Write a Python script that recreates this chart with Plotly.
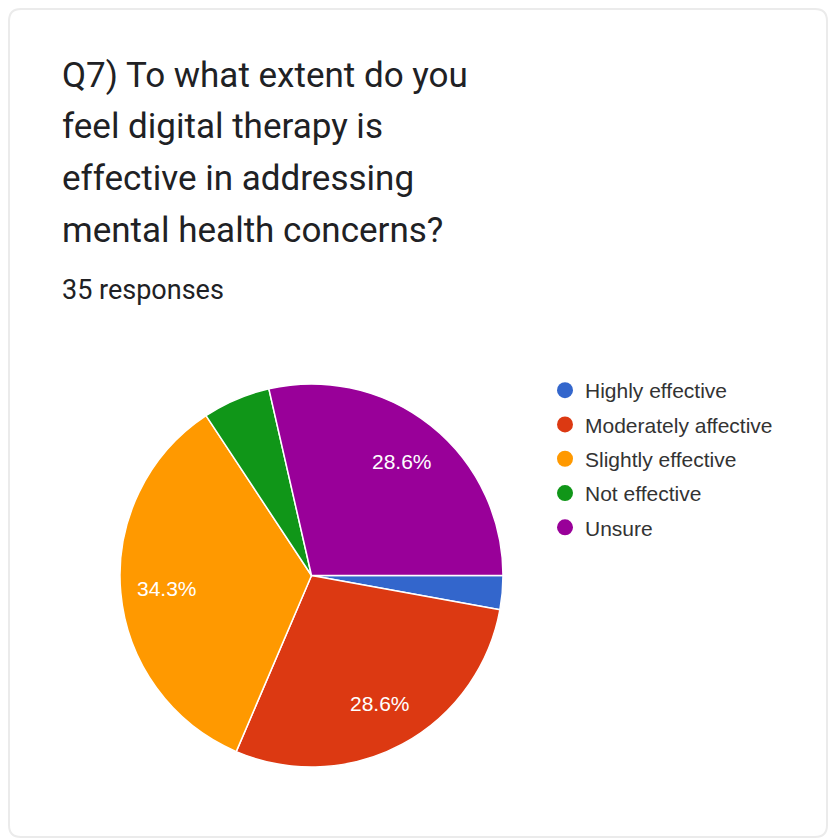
import math
import plotly.graph_objects as go

# Survey answers for Q7 (35 responses)
categories = ["Highly effective", "Moderately affective", "Slightly effective",
              "Not effective", "Unsure"]
counts = [1, 10, 12, 2, 10]
colors = ["#3366cc", "#dc3912", "#ff9900", "#109618", "#990099"]

title_lines = ["Q7) To what extent do you", "feel digital therapy is",
               "effective in addressing", "mental health concerns?"]
subtitle = "35 responses"

W, H = 832, 840

# pie geometry in pixels
cx, cy, r = 311.5, 575.5, 191.5
start_angle = 90  # degrees clockwise from 12 o'clock
label_radius = 0.76
min_label_share = 0.10


def px(x):
    return x / W


def py(y):
    return 1 - y / H


fig = go.Figure()

fig.add_trace(go.Pie(
    labels=categories,
    values=counts,
    sort=False,
    direction="clockwise",
    rotation=start_angle,
    marker=dict(colors=colors, line=dict(color="white", width=1.5)),
    textinfo="none",
    hoverinfo="label+percent",
    showlegend=False,
    domain=dict(x=[px(cx - r), px(cx + r)], y=[py(cy + r), py(cy - r)]),
))

# percentage labels placed along each slice's mid-angle
total = sum(counts)
annotations = []
acc = 0.0
for cat, v in zip(categories, counts):
    share = v / total
    mid = math.radians(start_angle + 360 * (acc + share / 2))
    acc += share
    if share < min_label_share:
        continue
    lx = cx + label_radius * r * math.sin(mid)
    ly = cy - label_radius * r * math.cos(mid)
    annotations.append(dict(
        x=px(lx), y=py(ly), xref="paper", yref="paper",
        text=f"{share * 100:.1f}%", showarrow=False,
        xanchor="center", yanchor="middle",
        font=dict(family="Arial, Liberation Sans, sans-serif", size=21, color="white"),
    ))

# question text
line_centers = [75, 126, 178, 230]
for line, yc in zip(title_lines, line_centers):
    annotations.append(dict(
        x=px(60), y=py(yc), xref="paper", yref="paper", text=line,
        showarrow=False, xanchor="left", yanchor="middle",
        font=dict(family="Roboto, sans-serif", size=35, color="#202124"),
    ))
annotations.append(dict(
    x=px(60), y=py(290), xref="paper", yref="paper", text=subtitle,
    showarrow=False, xanchor="left", yanchor="middle",
    font=dict(family="Roboto, sans-serif", size=27, color="#202124"),
))

# legend entries with round markers
for cat, col in zip(categories, colors):
    fig.add_trace(go.Scatter(
        x=[None], y=[None], mode="markers", name=cat, legendgroup=cat,
        marker=dict(symbol="circle", size=16, color=col),
        hoverinfo="skip",
    ))

# card outline
x0, y0, x1, y1, rad = 9, 9, 827, 837, 12
card = (f"M {px(x0 + rad)},{py(y0)} L {px(x1 - rad)},{py(y0)} "
        f"Q {px(x1)},{py(y0)} {px(x1)},{py(y0 + rad)} "
        f"L {px(x1)},{py(y1 - rad)} Q {px(x1)},{py(y1)} {px(x1 - rad)},{py(y1)} "
        f"L {px(x0 + rad)},{py(y1)} Q {px(x0)},{py(y1)} {px(x0)},{py(y1 - rad)} "
        f"L {px(x0)},{py(y0 + rad)} Q {px(x0)},{py(y0)} {px(x0 + rad)},{py(y0)} Z")

fig.update_layout(
    width=W, height=H,
    margin=dict(l=0, r=0, t=0, b=0),
    paper_bgcolor="white", plot_bgcolor="white",
    xaxis=dict(visible=False), yaxis=dict(visible=False),
    annotations=annotations,
    shapes=[dict(type="path", path=card, xref="paper", yref="paper",
                 line=dict(color="#ebebeb", width=2), layer="below")],
    legend=dict(
        x=px(545), y=py(370), xanchor="left", yanchor="top",
        tracegroupgap=4, bgcolor="rgba(0,0,0,0)",
        font=dict(family="Arial, Liberation Sans, sans-serif", size=21, color="#333333"),
    ),
)

fig.write_html("out.html")
